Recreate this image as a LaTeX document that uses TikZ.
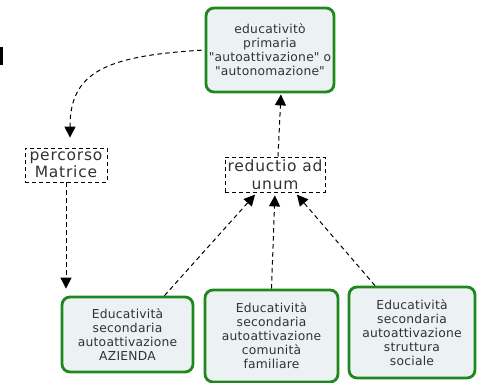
\documentclass[tikz,border=0pt]{standalone}
\usepackage{fontspec}
\setmainfont{DejaVu Sans}
\newfontfamily\boxfont[LetterSpace=2]{DejaVu Sans}
\newfontfamily\dashfont[LetterSpace=5]{DejaVu Sans}
\usetikzlibrary{arrows.meta,calc}
\definecolor{boxgreen}{RGB}{30,135,30}
\definecolor{boxfill}{RGB}{236,242,243}
\definecolor{txt}{RGB}{50,50,50}
\tikzset{
  greenbox/.style={draw=boxgreen, line width=2.8pt, fill=boxfill, rounded corners=8pt,
    align=center, text=txt, inner sep=0pt, font=\boxfont\fontsize{12.3}{14}\selectfont},
  dashbox/.style={draw=black, dash pattern=on 4pt off 3pt, line width=0.8pt, align=center,
    text=txt, inner sep=0pt, font=\dashfont\fontsize{15.5}{17.5}\selectfont},
  conn/.style={draw=black, line width=1pt, dash pattern=on 4.5pt off 3.5pt,
    -{Triangle[width=11pt,length=11pt]}}
}
\begin{document}
\begin{tikzpicture}[x=1pt,y=-1pt]
\useasboundingbox (0,0) rectangle (477,383);
\fill[black] (0,47) rectangle (3,65);
\node[greenbox, minimum width=128pt, minimum height=84pt] (top) at (270,50)
  {educativitò\\primaria\\\textquotedbl autoattivazione\textquotedbl{} o\\\textquotedbl autonomazione\textquotedbl};
\node[dashbox, minimum width=82pt, minimum height=34pt] (perc) at (66,165)
  {percorso\\Matrice};
\node[dashbox, minimum width=100pt, minimum height=35pt] (red) at (275,174.5)
  {reductio ad\\unum};
\node[greenbox, minimum width=131pt, minimum height=75pt] (b1) at (127.5,334.5)
  {Educatività\\secondaria\\autoattivazione\\AZIENDA};
\node[greenbox, minimum width=133pt, minimum height=92pt] (b2) at (271.5,336)
  {Educatività\\secondaria\\autoattivazione\\comunità\\familiare};
\node[greenbox, minimum width=126pt, minimum height=91pt] (b3) at (412,332.5)
  {Educatività\\secondaria\\autoattivazione\\struttura\\sociale};
\draw[conn, shorten <=3pt, shorten >=10pt] (top.west) .. controls +(-100,6) and +(0,-75) .. ([xshift=4pt]perc.north);
\draw[conn, shorten >=7pt] ([xshift=0pt]perc.south) -- (perc.south |- b1.north);
\draw[conn, shorten >=3pt] ([xshift=37pt]b1.north) -- ([xshift=-18pt]red.south);
\draw[conn, shorten >=3pt] (b2.north) -- (red.south);
\draw[conn, shorten >=3pt] ([xshift=-37pt]b3.north) -- ([xshift=20pt]red.south);
\draw[conn, shorten >=1pt] ([xshift=3pt]red.north) -- ([xshift=11pt]top.south);
\end{tikzpicture}
\end{document}
